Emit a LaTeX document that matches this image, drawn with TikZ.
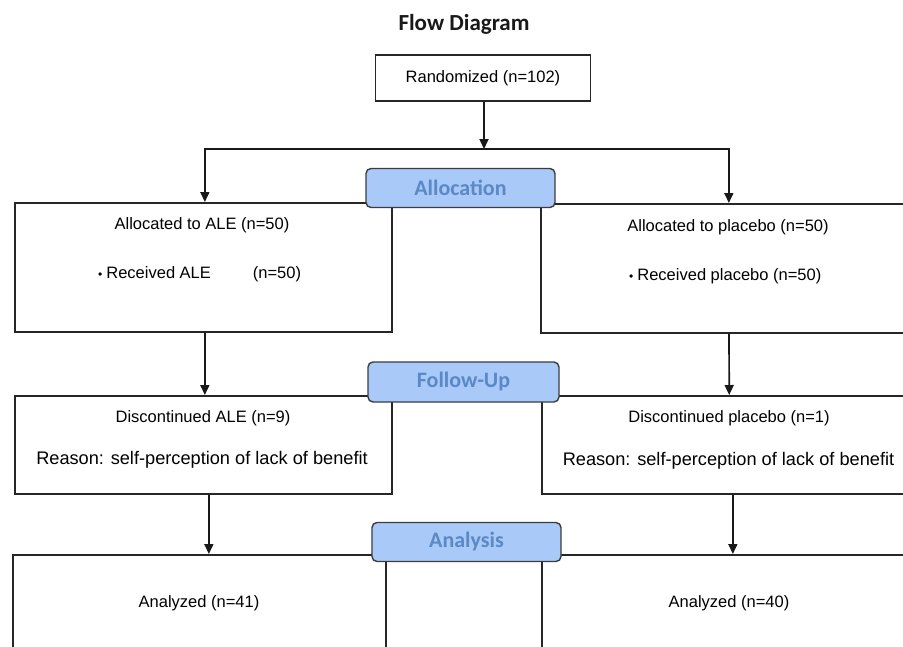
\documentclass[tikz,border=0pt]{standalone}
\usepackage{fontspec}
\setmainfont{Liberation Sans}
\newfontfamily\stagefont{Carlito}
\usepackage{tikz}
\usetikzlibrary{arrows.meta,positioning}
\definecolor{stagefill}{HTML}{A9C9F9}
\definecolor{stagetext}{HTML}{5A89C5}
\definecolor{stageline}{HTML}{3C3C3C}

\begin{document}
\begin{tikzpicture}[x=1pt,y=-1pt,
        box/.style={draw=black!85, line width=1.7pt, anchor=north west, inner sep=0pt},
        stage/.style={draw=stageline, fill=stagefill, rounded corners=5pt, line width=1.4pt,
            minimum height=39pt, text=stagetext, font=\stagefont\bfseries\fontsize{22}{24}\selectfont},
        txt/.style={inner sep=0pt, font=\fontsize{16.5}{20}\selectfont},
        reason/.style={inner sep=0pt, font=\fontsize{18.2}{22}\selectfont},
        arr/.style={line width=1.7pt, draw=black!90, -{Triangle[length=10pt,width=9pt]}}]
        \useasboundingbox (0,0) rectangle (903,646);
        \clip (0,0) rectangle (903,646);

        \node[font=\stagefont\bfseries\fontsize{23}{26}\selectfont, text=black!90] (title) at (464,24) {Flow Diagram};
        \node[box, anchor=center, minimum width=215pt, minimum height=46pt, txt, inner sep=0pt] (rand) at (483,78) {Randomized (n=102)};

        % allocation
        \node[box, minimum width=377pt, minimum height=129pt] (aleA) at (14,202) {};
        \node[box, minimum width=376pt, minimum height=129pt] (plaA) at (540,203) {};
        \node[txt] (aleAt) at (202,225) {Allocated to ALE (n=50)};
        \node[txt, anchor=west] (aleAr) at (98,274) {{\fontsize{12}{12}\selectfont\textbullet}\hspace{4pt}Received ALE\hspace{42pt}(n=50)};
        \node[txt] (plaAt) at (728,227) {Allocated to placebo (n=50)};
        \node[txt, anchor=west] (plaAr) at (629,276) {{\fontsize{12}{12}\selectfont\textbullet}\hspace{4pt}Received placebo (n=50)};

        % follow-up
        \node[box, minimum width=377pt, minimum height=98pt] (aleF) at (14,395) {};
        \node[box, minimum width=375pt, minimum height=98pt] (plaF) at (541,395) {};
        \node[txt] (aleFt) at (203,418) {Discontinued ALE (n=9)};
        \node[reason] (aleFr) at (202,460) {Reason: self-perception of lack of benefit};
        \node[txt] (plaFt) at (729,418) {Discontinued placebo (n=1)};
        \node[reason] (plaFr) at (728.5,461) {Reason: self-perception of lack of benefit};

        % analysis
        \node[box, minimum width=373pt, minimum height=110pt] (aleN) at (12,554) {};
        \node[box, minimum width=375pt, minimum height=110pt] (plaN) at (541,554) {};
        \node[txt] (aleNt) at (199,603) {Analyzed (n=41)};
        \node[txt] (plaNt) at (729,603) {Analyzed (n=40)};

        \coordinate (split) at (484,149);
        \draw[arr] (rand.south -| split) -- (split);
        \draw[arr] (split) -| ([xshift=1.5pt]aleA.north);
        \draw[arr] (split) -| (plaA.north);
        \draw[arr] ([xshift=1.5pt]aleA.south) -- ([xshift=1.5pt]aleA.south |- aleF.north);
        \draw[arr] (plaA) -- (plaF);
        \draw[arr] ([xshift=5.5pt]aleF.south) -- ([xshift=5.5pt]aleF.south |- aleN.north);
        \draw[arr] ([xshift=3.5pt]plaF.south) -- ([xshift=3.5pt]plaF.south |- plaN.north);

        \node[stage, minimum width=189pt] (alloc) at (460.5,188) {Allocation};
        \node[stage, minimum width=191pt, minimum height=40pt] (follow) at (463.5,382) {Follow-Up};
        \node[stage, minimum width=189pt, minimum height=39pt] (analysis) at (466.5,542) {Analysis};
    \end{tikzpicture}
\end{document}
